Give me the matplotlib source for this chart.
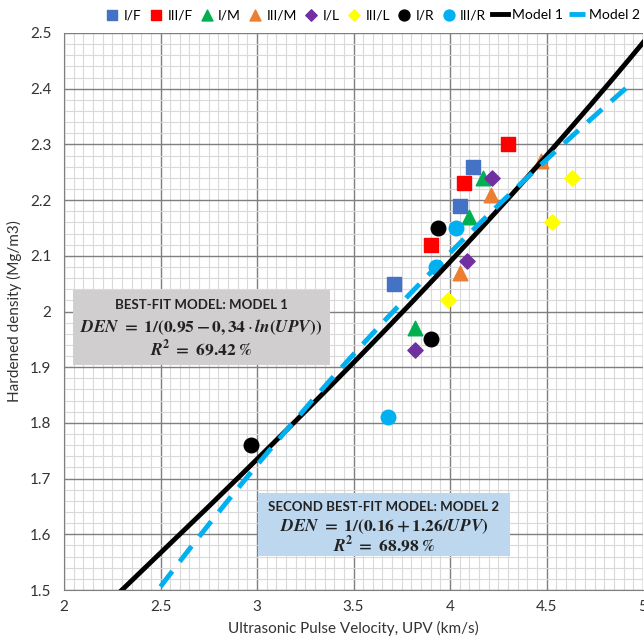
import numpy as np
import matplotlib
matplotlib.use('Agg')
from matplotlib import pyplot as plt
from matplotlib.ticker import MultipleLocator
from matplotlib.patches import Rectangle

plt.rcParams['font.family'] = ['Lato', 'DejaVu Sans']
plt.rcParams['mathtext.fontset'] = 'stix'

# 数据 (UPV km/s, density Mg/m3)
if_x = [3.71, 4.05, 4.12]
if_y = [2.05, 2.19, 2.26]
iiif_x = [3.90, 4.07, 4.30]
iiif_y = [2.12, 2.23, 2.30]
im_x = [3.82, 4.10, 4.17]
im_y = [1.97, 2.17, 2.24]
iiim_x = [4.05, 4.21, 4.47]
iiim_y = [2.07, 2.21, 2.27]
il_x = [3.82, 4.09, 4.22]
il_y = [1.93, 2.09, 2.24]
iiil_x = [3.99, 4.53, 4.63]
iiil_y = [2.02, 2.16, 2.24]
ir_x = [2.97, 3.90, 3.94]
ir_y = [1.76, 1.95, 2.15]
iiir_x = [3.68, 3.93, 4.03]
iiir_y = [1.81, 2.08, 2.15]

m1_x = np.linspace(2.0, 5.0, 200)
m2_x = np.linspace(2.5, 4.94, 200)

fig = plt.figure(figsize=(6.44, 6.42), dpi=100)
ax = fig.add_axes([64/644, 1-590/642, 579/644, 557/642])

ax.scatter(if_x, if_y, marker='s', s=110, color='#4472C4', label='I/F', zorder=3)
ax.scatter(iiif_x, iiif_y, marker='s', s=110, color='#FF0000', label='III/F', zorder=3)
ax.scatter(im_x, im_y, marker='^', s=110, color='#00B050', label='I/M', zorder=3)
ax.scatter(iiim_x, iiim_y, marker='^', s=110, color='#ED7D31', label='III/M', zorder=3)
ax.scatter(il_x, il_y, marker='D', s=60, color='#7030A0', label='I/L', zorder=3)
ax.scatter(iiil_x, iiil_y, marker='D', s=60, color='#FFFF00', label='III/L', zorder=3)
ax.scatter(ir_x, ir_y, marker='o', s=110, color='black', label='I/R', zorder=3)
ax.scatter(iiir_x, iiir_y, marker='o', s=110, color='#00B0F0', label='III/R', zorder=3)

ax.plot(m1_x, 1/(0.95 - 0.34*np.log(m1_x)), color='black', lw=3.5, label='Model 1', zorder=4)
ax.plot(m2_x, 1/(0.16 + 1.26/m2_x), color='#00B0F0', lw=3.5, dashes=(4, 2.5),
        label='Model 2', zorder=5)

ax.set_xlim(2, 5)
ax.set_ylim(1.5, 2.5)
ax.xaxis.set_minor_locator(MultipleLocator(0.05))
ax.yaxis.set_minor_locator(MultipleLocator(0.02))
ax.set_xticks([2, 2.5, 3, 3.5, 4, 4.5, 5])
ax.set_xticklabels(['2', '2.5', '3', '3.5', '4', '4.5', '5'])
ax.set_yticks(np.round(np.arange(1.5, 2.51, 0.1), 1))
ax.set_yticklabels(['1.5', '1.6', '1.7', '1.8', '1.9', '2', '2.1', '2.2', '2.3', '2.4', '2.5'])
ax.grid(which='major', color='#7f7f7f', lw=1.0, zorder=0)
ax.grid(which='minor', color='#d9d9d9', lw=0.8, zorder=0)
ax.set_axisbelow(True)
ax.tick_params(which='both', length=0, labelsize=11, colors='#333333')
ax.tick_params(axis='y', pad=9)
ax.tick_params(axis='x', pad=7)
for s in ['top', 'right']:
    ax.spines[s].set_visible(False)
ax.spines['left'].set_color('#7f7f7f')
ax.spines['bottom'].set_color('#7f7f7f')

ax.set_xlabel('Ultrasonic Pulse Velocity, UPV (km/s)', fontsize=11, color='#333333', labelpad=5)
ax.set_ylabel('Hardened density (Mg/m3)', fontsize=11, color='#333333', labelpad=6)

fig.legend(loc='center', bbox_to_anchor=(372/644, 1-15/642), ncol=10, frameon=False,
           fontsize=10, handlelength=1.15, handletextpad=0.25, columnspacing=0.45,
           markerscale=0.75, borderaxespad=0)

# 文本框 1
ax.add_patch(Rectangle((2.047, 1.904), 1.331, 0.135, fc='#d0cece', ec='none', zorder=6))
ax.text(2.71, 2.012, 'BEST-FIT MODEL: MODEL 1', ha='center', va='center',
        fontsize=9.5, fontweight='bold', color='#222222', zorder=7)
ax.text(2.71, 1.972,
        r'$\mathbfit{DEN}\ \mathbf{=\ 1/(0.95-0,34}\cdot\mathbfit{ln}\mathbf{(}\mathbfit{UPV}\mathbf{))}$',
        ha='center', va='center', fontsize=12.5, color='#222222', zorder=7)
ax.text(2.71, 1.934, r'$\mathbfit{R}^\mathbf{2}\mathbf{\ =\ 69.42\ \%}$', ha='center', va='center',
        fontsize=12.5, color='#222222', zorder=7)

# 文本框 2
ax.add_patch(Rectangle((3.005, 1.561), 1.306, 0.113, fc='#bdd7ee', ec='none', zorder=6))
ax.text(3.658, 1.649, 'SECOND BEST-FIT MODEL: MODEL 2', ha='center', va='center',
        fontsize=9.5, fontweight='bold', color='#222222', zorder=7)
ax.text(3.658, 1.613, r'$\mathbfit{DEN}\ \mathbf{=\ 1/(0.16+1.26/}\mathbfit{UPV}\mathbf{)}$',
        ha='center', va='center', fontsize=12.5, color='#222222', zorder=7)
ax.text(3.658, 1.581, r'$\mathbfit{R}^\mathbf{2}\mathbf{\ =\ 68.98\ \%}$', ha='center', va='center',
        fontsize=12.5, color='#222222', zorder=7)

fig.savefig('out.png', dpi=100)
